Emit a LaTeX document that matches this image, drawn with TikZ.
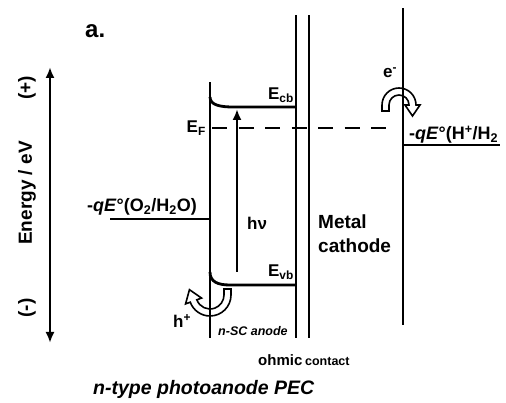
\documentclass[tikz,border=0pt]{standalone}
\usepackage{fontspec}
\setmainfont{Liberation Sans}
\usetikzlibrary{arrows.meta,calc}
\begin{document}
\begin{tikzpicture}[x=1pt,y=1pt,
  band/.style={line width=2.8pt},
  lab/.style={inner sep=0pt, font=\fontsize{17}{20}\selectfont\bfseries},
  biglab/.style={inner sep=0pt, font=\fontsize{19}{24}\selectfont\bfseries},
  hollow/.style={draw=black, fill=white, line width=1.6pt, line join=miter},
  tip/.style={-{Latex[length=11pt,width=9pt]}},
]
\useasboundingbox (0,0) rectangle (506,403);

% coordinates
\coordinate (axB) at (50,60);
\coordinate (axT) at (50,336);
\coordinate (scLb) at (210,65);
\coordinate (scLt) at (210,321);
\coordinate (scRb) at (296,65);
\coordinate (scRt) at (296,388);
\coordinate (mtb) at (309,65);
\coordinate (mtt) at (309,388);
\coordinate (elb) at (403,78);
\coordinate (elt) at (403,395);
\coordinate (hc) at (210,108);
\coordinate (ec) at (399,298);

% hollow arrows (drawn first so the lines pass over them)
\draw[hollow] ($(hc)+(21,6)$) -- ($(hc)+(21,0)$)
  arc[start angle=0,end angle=-160,radius=21]
  -- ($(hc)+(200:26)$) -- ($(hc)+(200:17.5)+(-4.1,11.3)$) -- ($(hc)+(200:9)$)
  -- ($(hc)+(200:14)$) arc[start angle=-160,end angle=0,radius=14]
  -- ($(hc)+(14,6)$) -- cycle;
\draw[hollow] ($(ec)+(-17,-6)$) -- ($(ec)+(-17,0)$)
  arc[start angle=180,end angle=0,radius=17]
  -- ($(ec)+(21,0)$) -- ($(ec)+(13.5,-11)$) -- ($(ec)+(6,0)$)
  -- ($(ec)+(10,0)$) arc[start angle=0,end angle=180,radius=10]
  -- ($(ec)+(-10,-6)$) -- cycle;

% energy axis
\draw[band,{Latex[length=11pt,width=9pt]}-{Latex[length=11pt,width=9pt]}] (axB) -- (axT);
\node[biglab,rotate=90] (energy) at (27,210) {Energy / eV};
\node[biglab,rotate=90] (plus) at (27,315) {(+)};
\node[biglab,rotate=90] (minus) at (27,95) {(-)};
\node[inner sep=0pt,font=\fontsize{24}{28}\selectfont\bfseries,anchor=base west] (a) at (85,365) {a.};

% semiconductor and metal
\draw[band] (scLb) -- (scLt);
\draw[band] (210,306) .. controls (210,298) and (220,296) .. (233,296) -- (296,296);
\draw[band] (210,131) .. controls (210,121) and (218,118) .. (230,118) -- (296,118);
\draw[band] (scRb) -- (scRt);
\draw[band] (mtb) -- (mtt);
\draw[band] (elb) -- (elt);

% levels
\draw[band] (110,184) -- (210,184);
\draw[band] (403,258) -- (500,258);
\draw[band,dash pattern=on 15pt off 11.5pt] (212,275) -- (386,275);

% photon arrow
\draw[band,tip] (237,131) -- (237,294);

% labels
\node[lab,anchor=base east] (ef) at (206,270) {E\textsubscript{F}};
\node[lab,anchor=base east] (ecb) at (294,303) {E\textsubscript{cb}};
\node[lab,anchor=base east] (evb) at (294,126) {E\textsubscript{vb}};
\node[lab,anchor=base west] (hnu) at (247,173) {hν};
\node[inner sep=0pt,font=\fontsize{18}{22}\selectfont\bfseries,anchor=base west] (o2) at (87,191)
  {-\textit{q}\textit{E}°(O\textsubscript{2}/H\textsubscript{2}O)};
\node[inner sep=0pt,font=\fontsize{18}{22}\selectfont\bfseries,anchor=base west] (h2) at (409,263)
  {-\textit{q}\textit{E}°(H\textsuperscript{+}/H\textsubscript{2}};
\node[biglab,anchor=north west,align=left] (metal) at (318,188) {Metal\\cathode};
\node[lab,anchor=base west] (eminus) at (383,325) {e\textsuperscript{-}};
\node[lab,anchor=base west] (hplus) at (173,75) {h\textsuperscript{+}};
\node[inner sep=0pt,font=\fontsize{12.5}{15}\selectfont\bfseries\itshape,anchor=base west] (nsc) at (218,67) {n-SC anode};
\node[inner sep=0pt,font=\bfseries,anchor=base west] (ohm) at (258,37)
  {{\fontsize{15}{18}\selectfont ohmic} {\fontsize{12.5}{15}\selectfont contact}};
\node[inner sep=0pt,font=\fontsize{19.5}{24}\selectfont\bfseries\itshape,anchor=base west] (title) at (93,8) {n-type photoanode PEC};
\end{tikzpicture}
\end{document}
